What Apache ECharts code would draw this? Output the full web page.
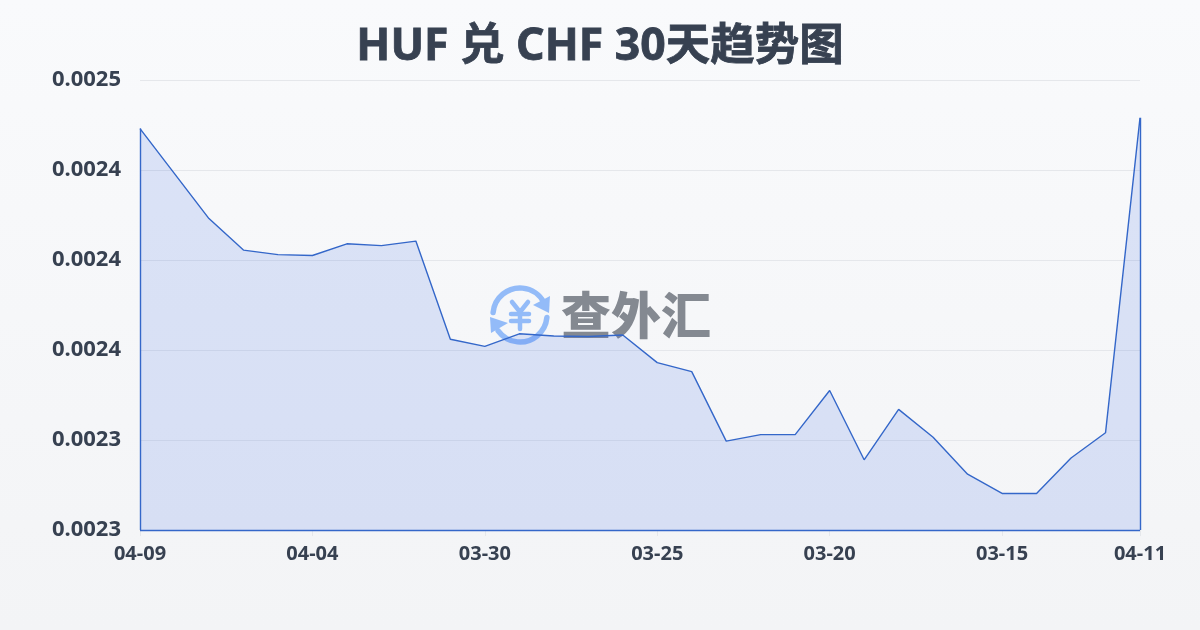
<!DOCTYPE html>
<html><head><meta charset="utf-8">
<style>html,body{margin:0;padding:0;background:#f6f7f9}#c{width:1200px;height:630px}</style>
<script src="https://cdn.jsdelivr.net/npm/echarts@6/dist/echarts.min.js"></script>
</head><body><div id="c"></div>
<script>
const titleText = 'HUF 兑 CHF 30天趋势图';
const logoText = '查外汇';
const categories = ['04-09','04-08','04-07','04-06','04-05','04-04','04-03','04-02','04-01','03-31','03-30','03-29','03-28','03-27','03-26','03-25','03-24','03-23','03-22','03-21','03-20','03-19','03-18','03-17','03-16','03-15','03-14','03-13','03-12','04-11'];
const rates = [0.002473,0.002448,0.002423,0.0024055,0.002403,0.0024025,0.002409,0.002408,0.0024105,0.002356,0.002352,0.002359,0.0023578,0.0023575,0.0023583,0.002343,0.002338,0.0022994,0.002303,0.002303,0.0023275,0.002289,0.002317,0.0023015,0.002281,0.0022703,0.0022703,0.00229,0.002304,0.002479];
const yTickLabels = ['0.0023','0.0023','0.0024','0.0024','0.0024','0.0025'];
const yMin = 0.00225, yMax = 0.0025, yStep = 0.00005;
const shownX = [0,5,10,15,20,25,29];
const font = '"Noto Sans","Noto Sans CJK SC",sans-serif';
const ink = '#374151', blue = '#3467c9', icon = '#93bbf8';
const chart = echarts.init(document.getElementById('c'), null, {renderer:'canvas'});
const stroke = {stroke:icon, lineWidth:5.5, lineCap:'round', fill:null};
const bar = {stroke:icon, lineWidth:4.5, lineCap:'round', lineJoin:'round', fill:null};
chart.setOption({
  animation:false,
  backgroundColor:{type:'linear',x:0,y:0,x2:0,y2:1,colorStops:[{offset:0,color:'#f9fafc'},{offset:1,color:'#f3f4f6'}]},
  title:{text:titleText,left:'center',top:20,textStyle:{fontFamily:font,fontSize:44.5,fontWeight:'bold',color:ink,textBorderColor:ink,textBorderWidth:0.8}},
  grid:{left:140,right:60,top:80,bottom:100,containLabel:false},
  xAxis:{type:'category',boundaryGap:false,data:categories,
    axisLine:{show:false},
    axisTick:{show:true,length:6,lineStyle:{color:'#e5e7eb'},alignWithLabel:true,interval:(i)=>shownX.includes(i)},
    axisLabel:{interval:(i)=>shownX.includes(i),fontFamily:font,fontSize:20,fontWeight:'bold',color:ink,margin:14},
    splitLine:{show:false}},
  yAxis:{type:'value',min:yMin,max:yMax,interval:yStep,
    axisLine:{show:false},axisTick:{show:false},
    axisLabel:{fontFamily:font,fontSize:22,fontWeight:'bold',color:ink,margin:19,
      formatter:(v)=>yTickLabels[Math.round((v-yMin)/yStep)]},
    splitLine:{show:true,lineStyle:{color:'#e5e7eb',width:1}}},
  graphic:[
    {type:'group',z:0,silent:true,children:[
      {type:'arc',shape:{cx:520,cy:315,r:27,startAngle:Math.PI*1.03,endAngle:Math.PI*1.85},style:stroke},
      {type:'arc',shape:{cx:520,cy:315,r:27,startAngle:Math.PI*0.03,endAngle:Math.PI*0.8},style:stroke},
      {type:'polygon',shape:{points:[[550,296],[549,313],[533,305]]},style:{fill:icon}},
      {type:'polygon',shape:{points:[[490,317],[508,323],[491,333]]},style:{fill:icon}},
      {type:'polyline',shape:{points:[[512,302],[520,312],[528,302]]},style:bar},
      {type:'line',shape:{x1:511,y1:314,x2:529,y2:314},style:bar},
      {type:'line',shape:{x1:511,y1:321,x2:529,y2:321},style:bar},
      {type:'line',shape:{x1:520,y1:312,x2:520,y2:329},style:bar},
      {type:'text',x:636,y:315,style:{text:logoText,font:'900 50px "Noto Sans CJK SC"',fill:'#848991',align:'center',verticalAlign:'middle'}}
    ]}
  ],
  series:[{type:'line',data:rates,showSymbol:false,symbol:'none',smooth:false,z:3,
    lineStyle:{color:blue,width:1.4},
    areaStyle:{color:'rgba(40,90,225,0.2)',origin:'start'},
    markLine:{silent:true,symbol:'none',label:{show:false},emphasis:{disabled:true},lineStyle:{color:blue,width:1.4,type:'solid'},
      data:[
        [{coord:[0,yMin]},{coord:[0,rates[0]]}],
        [{coord:[categories.length-1,yMin]},{coord:[categories.length-1,rates[rates.length-1]]}],
        [{coord:[0,yMin]},{coord:[categories.length-1,yMin]}]
      ]}
  }]
});
</script></body></html>
